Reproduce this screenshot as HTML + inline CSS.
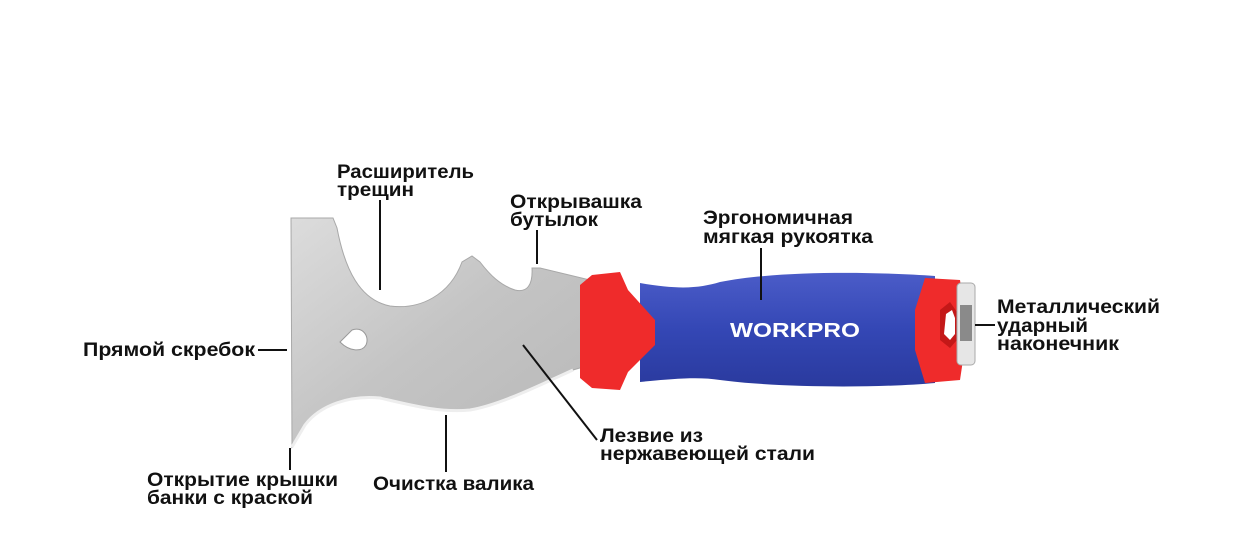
<!DOCTYPE html>
<html><head><meta charset="utf-8"><style>
body{margin:0;background:#fff}
svg text{font-family:"Liberation Sans","DejaVu Sans",sans-serif;font-weight:bold;font-size:19px;fill:#111}
</style></head><body>
<svg width="1238" height="555" viewBox="0 0 1238 555" xmlns="http://www.w3.org/2000/svg">
<defs>
<linearGradient id="bl" x1="0" y1="0" x2="1" y2="1">
<stop offset="0" stop-color="#dcdcdc"/><stop offset="0.5" stop-color="#c4c4c4"/><stop offset="1" stop-color="#b8b8b8"/></linearGradient>
<linearGradient id="bu" x1="0" y1="0" x2="0" y2="1">
<stop offset="0" stop-color="#4b5cc8"/><stop offset="0.5" stop-color="#3447b5"/><stop offset="1" stop-color="#2a3a9e"/></linearGradient>
</defs>
<path d="M291 218 L333 218 L337 228 C345 270 360 300 390 306 C420 310 450 295 462 262 L472 256 L480 262 C490 275 500 285 515 290 C527 293 533 285 532 268 L540 268 L590 280 L590 365 L573 370 C540 385 500 405 470 410 C440 413 410 405 380 398 C350 395 320 405 305 425 L292 447 Z" fill="url(#bl)" stroke="#a8a8a8" stroke-width="1"/>
<path d="M292 447 L305 425 C320 405 350 395 380 398 C410 405 440 413 470 410 C500 405 540 385 573 370" fill="none" stroke="#eee" stroke-width="3"/>
<path d="M340 342 L352 330 C362 326 370 336 366 345 C362 352 350 352 340 342Z" fill="#fff" stroke="#999"/>
<path d="M640 283 C680 290 700 288 720 282 C780 270 880 272 935 276 L935 383 C880 388 780 388 720 380 C700 377 680 378 640 382 Z" fill="url(#bu)"/>
<path d="M592 275 L620 272 L628 290 L655 320 L655 345 L628 372 L620 390 L592 388 L580 378 L580 285 Z" fill="#ef2b2b"/>
<path d="M925 278 L960 280 L963 300 L963 360 L960 380 L925 383 L915 350 L915 310 Z" fill="#ef2b2b"/>
<path d="M940 310 L950 302 L957 312 L957 340 L950 348 L940 340 Z" fill="#c41818"/>
<path d="M946 314 L952 310 L955 318 L955 334 L950 340 L944 334 Z" fill="#fff"/>
<rect x="957" y="283" width="18" height="82" rx="4" fill="#e6e6e6" stroke="#aaa"/>
<rect x="960" y="305" width="12" height="36" fill="#8a8a8a"/>
<text x="730" y="337" style="fill:#fff;font-size:20px" textLength="130" lengthAdjust="spacingAndGlyphs">WORKPRO</text>
<g stroke="#111" stroke-width="2" fill="none">
<line x1="380" y1="200" x2="380" y2="290"/>
<line x1="537" y1="230" x2="537" y2="264"/>
<line x1="761" y1="248" x2="761" y2="300"/>
<line x1="975" y1="325" x2="995" y2="325"/>
<line x1="258" y1="350" x2="287" y2="350"/>
<line x1="290" y1="448" x2="290" y2="470"/>
<line x1="446" y1="415" x2="446" y2="472"/>
<line x1="523" y1="345" x2="597" y2="440"/>
</g>
<g>
<text x="337" y="178" textLength="137" lengthAdjust="spacingAndGlyphs">Расширитель</text>
<text x="337" y="196" textLength="77" lengthAdjust="spacingAndGlyphs">трещин</text>
<text x="510" y="208" textLength="132" lengthAdjust="spacingAndGlyphs">Открывашка</text>
<text x="510" y="226" textLength="88" lengthAdjust="spacingAndGlyphs">бутылок</text>
<text x="703" y="224" textLength="150" lengthAdjust="spacingAndGlyphs">Эргономичная</text>
<text x="703" y="243" textLength="170" lengthAdjust="spacingAndGlyphs">мягкая рукоятка</text>
<text x="997" y="313" textLength="163" lengthAdjust="spacingAndGlyphs">Металлический</text>
<text x="997" y="332" textLength="91" lengthAdjust="spacingAndGlyphs">ударный</text>
<text x="997" y="350" textLength="122" lengthAdjust="spacingAndGlyphs">наконечник</text>
<text x="83" y="356" textLength="172" lengthAdjust="spacingAndGlyphs">Прямой скребок</text>
<text x="147" y="486" textLength="191" lengthAdjust="spacingAndGlyphs">Открытие крышки</text>
<text x="147" y="504" textLength="166" lengthAdjust="spacingAndGlyphs">банки с краской</text>
<text x="373" y="490" textLength="161" lengthAdjust="spacingAndGlyphs">Очистка валика</text>
<text x="600" y="442" textLength="103" lengthAdjust="spacingAndGlyphs">Лезвие из</text>
<text x="600" y="460" textLength="215" lengthAdjust="spacingAndGlyphs">нержавеющей стали</text>
</g>
</svg>
</body></html>
